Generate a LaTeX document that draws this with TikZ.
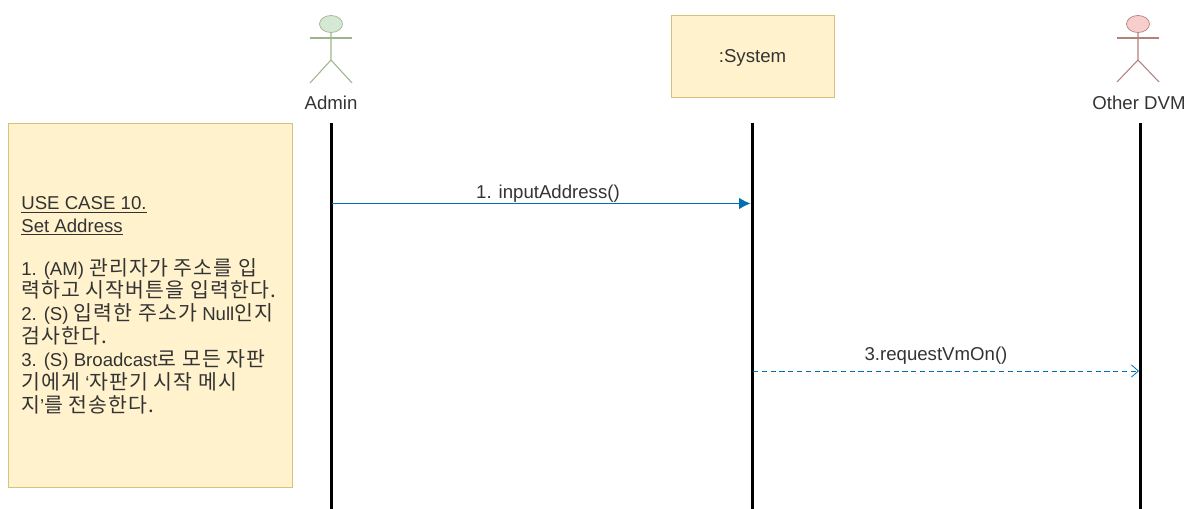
\documentclass[tikz,border=0pt]{standalone}
\usepackage{fontspec}
\usetikzlibrary{shapes.geometric, arrows.meta}
\setmainfont{Liberation Sans}
\newfontfamily\krfont[Scale=1.1, LetterSpace=5.5]{Noto Sans CJK KR}
\definecolor{notefill}{HTML}{FFF2CC}
\definecolor{notedraw}{HTML}{D6C27A}
\definecolor{adminfill}{HTML}{D5E8D4}
\definecolor{admindraw}{HTML}{9DB58C}
\definecolor{otherfill}{HTML}{F8CECC}
\definecolor{otherdraw}{HTML}{B57F7B}
\definecolor{msgline}{HTML}{006EAF}
\definecolor{labeltext}{HTML}{333333}
\tikzset{
	notebox/.style={draw=notedraw, fill=notefill, line width=.5pt, inner sep=0pt},
	lifeline/.style={line width=1.7pt, black},
	msglabel/.style={text=labeltext, font=\fontsize{10.6}{12}\selectfont, inner sep=0pt},
	actorhead/.style={ellipse, minimum width=.46cm, minimum height=.34cm, inner sep=0pt},
}
\begin{document}
\begin{tikzpicture}[x=.02cm, y=-.02cm]
	\useasboundingbox (0, 0) rectangle (1193, 509);
	% note and system box
	\node[notebox, minimum width=5.68cm, minimum height=7.28cm] (note) at (150, 305) {};
	\node[notebox, minimum width=3.26cm, minimum height=1.64cm, msglabel, text depth=0pt] (system) at (752.5, 56) {:System};
	\node[msglabel, anchor=west, align=left, font=\fontsize{10.6}{13}\selectfont] (notetext) at (21, 305) {%
		\underline{USE CASE 10.}\\
		\underline{Set Address}\\[11.5pt]
		1. (AM) {\krfont 관리자가 주소를 입}\\
		{\krfont 력하고 시작버튼을 입력한다.}\\
		2. (S) {\krfont 입력한 주소가} Null{\krfont 인지}\\
		{\krfont 검사한다.}\\
		3. (S) Broadcast{\krfont 로 모든 자판}\\
		{\krfont 기에게} `{\krfont 자판기 시작 메시}\\
		{\krfont 지}'{\krfont 를 전송한다.}};
	% actors
	\node[draw=admindraw, fill=adminfill, actorhead] (adminhead) at (331, 24) {};
	\draw[admindraw, line width=.6pt] (adminhead.south) -- (331, 60) -- (310, 83);
	\draw[admindraw, line width=.6pt] (331, 60) -- (352, 83);
	\draw[admindraw, line width=.6pt] (310, 38) -- (352, 38);
	\node[msglabel] (admin) at (331, 103) {Admin};
	\node[draw=otherdraw, fill=otherfill, actorhead] (otherhead) at (1138, 24) {};
	\draw[otherdraw, line width=.6pt] (otherhead.south) -- (1138, 60) -- (1117, 82);
	\draw[otherdraw, line width=.6pt] (1138, 60) -- (1159, 82);
	\draw[otherdraw, line width=.6pt] (1117, 38) -- (1159, 38);
	\node[msglabel] (other) at (1139, 103) {Other DVM};
	% lifelines
	\coordinate (admintop) at (331.5, 123);
	\coordinate (adminend) at (331.5, 509);
	\coordinate (systop) at (752.5, 123);
	\coordinate (sysend) at (752.5, 509);
	\coordinate (othertop) at (1140, 123);
	\coordinate (otherend) at (1140, 509);
	\draw[lifeline] (admintop) -- (adminend);
	\draw[lifeline] (systop) -- (sysend);
	\draw[lifeline] (othertop) -- (otherend);
	% messages
	\coordinate (msgastart) at (332, 203.5);
	\coordinate (msgaend) at (750.5, 203.5);
	\coordinate (msgbstart) at (753, 371);
	\coordinate (msgbend) at (1139, 371);
	\draw[-{Latex[length=6.5pt, width=6.5pt]}, msgline, line width=.45pt] (msgastart) -- (msgaend);
	\draw[-{Straight Barb[length=4pt, width=7pt]}, msgline, line width=.45pt, dash pattern=on 3pt off 2pt] (msgbstart) -- (msgbend);
	\node[msglabel] (msga) at (548, 194) {1. inputAddress()};
	\node[msglabel] (msgb) at (936, 356) {3.requestVmOn()};
\end{tikzpicture}
\end{document}
